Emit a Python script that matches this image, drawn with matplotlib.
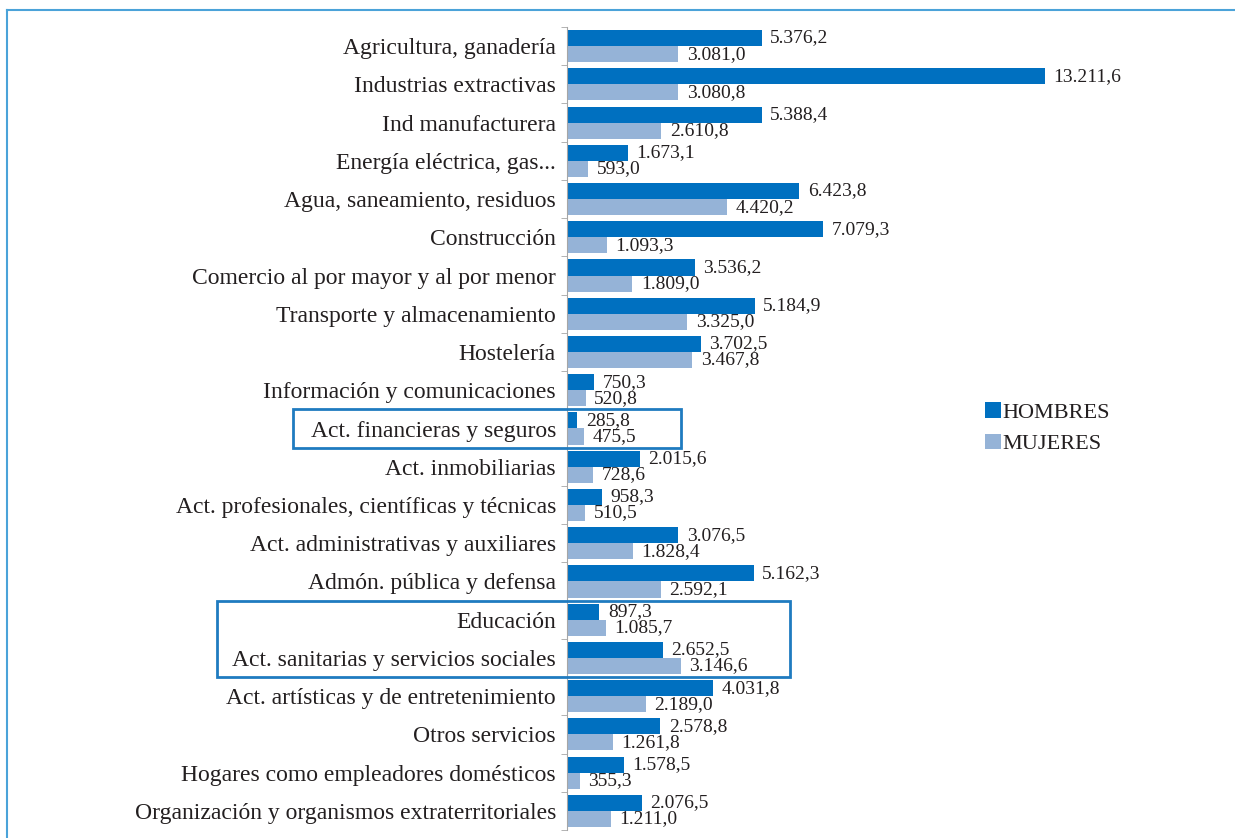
import numpy as np
import matplotlib.pyplot as plt
from matplotlib.patches import Rectangle
from matplotlib.lines import Line2D
import matplotlib.transforms as mtransforms

# data
sectores = ['Agricultura, ganadería', 'Industrias extractivas', 'Ind manufacturera',
            'Energía eléctrica, gas...', 'Agua, saneamiento, residuos', 'Construcción',
            'Comercio al por mayor y al por menor', 'Transporte y almacenamiento',
            'Hostelería', 'Información y comunicaciones', 'Act. financieras y seguros',
            'Act. inmobiliarias', 'Act. profesionales, científicas y técnicas',
            'Act. administrativas y auxiliares', 'Admón. pública y defensa', 'Educación',
            'Act. sanitarias y servicios sociales', 'Act. artísticas y de entretenimiento',
            'Otros servicios', 'Hogares como empleadores domésticos',
            'Organización y organismos extraterritoriales']
hombres = [5376.2, 13211.6, 5388.4, 1673.1, 6423.8, 7079.3, 3536.2, 5184.9, 3702.5, 750.3,
           285.8, 2015.6, 958.3, 3076.5, 5162.3, 897.3, 2652.5, 4031.8, 2578.8, 1578.5, 2076.5]
mujeres = [3081.0, 3080.8, 2610.8, 593.0, 4420.2, 1093.3, 1809.0, 3325.0, 3467.8, 520.8,
           475.5, 728.6, 510.5, 1828.4, 2592.1, 1085.7, 3146.6, 2189.0, 1261.8, 355.3, 1211.0]
series = ['HOMBRES', 'MUJERES']
resaltados = [(10, 10), (15, 16)]  # filas dentro de los recuadros

c_h = '#0070C0'
c_m = '#95B3D7'
c_txt = '#231F20'
c_marco = '#1F7BC0'

plt.rcParams['font.family'] = ['Liberation Serif', 'DejaVu Serif']

def fmt(v):
    s = f'{v:,.1f}'
    return s.replace(',', 'X').replace('.', ',').replace('X', '.')

W, H = 1235, 838
fig = plt.figure(figsize=(W/100, H/100), dpi=100)
ax = fig.add_axes([567/W, 1 - 830/H, (W - 567)/W, (830 - 27)/H])

y = np.arange(len(sectores))
h = 0.42
ax.barh(y - h/2, hombres, height=h, color=c_h, label=series[0])
ax.barh(y + h/2, mujeres, height=h, color=c_m, label=series[1])

for i in range(len(sectores)):
    ax.annotate(fmt(hombres[i]), (hombres[i], y[i] - h/2), xytext=(6, 0),
                textcoords='offset points', va='center', ha='left', fontsize=14, color=c_txt)
    ax.annotate(fmt(mujeres[i]), (mujeres[i], y[i] + h/2), xytext=(6, 0),
                textcoords='offset points', va='center', ha='left', fontsize=14, color=c_txt)

ax.set_xlim(0, (W - 567) / 0.03618)
ax.set_ylim(len(sectores) - 0.5, -0.5)
ax.set_yticks(y)
ax.set_yticklabels(sectores, fontsize=17, color=c_txt)
ax.set_yticks(np.arange(len(sectores) + 1) - 0.5, minor=True)
ax.tick_params(axis='y', which='major', length=0, pad=8)
ax.tick_params(axis='y', which='minor', length=4, color='#A6A6A6', direction='out')
ax.set_xticks([])
for s in ['top', 'right', 'bottom']:
    ax.spines[s].set_visible(False)
ax.spines['left'].set_color('#A6A6A6')
ax.patch.set_alpha(0)

# recuadros
trans = mtransforms.blended_transform_factory(fig.transFigure, ax.transData)
cajas_x = [(293, 681), (217, 790)]
for (a, b), (x0, x1) in zip(resaltados, cajas_x):
    r = Rectangle((x0/W, a - 0.5), (x1 - x0)/W, b - a + 1, transform=trans, fill=False,
                  edgecolor=c_marco, linewidth=2, clip_on=False, zorder=5)
    fig.add_artist(r)

# leyenda
leg = ax.legend(loc='upper left', bbox_to_anchor=(965/W, 1 - 382/H), bbox_transform=fig.transFigure,
                frameon=False, fontsize=16, handlelength=0.7, handleheight=0.7,
                handletextpad=0.1, labelspacing=0.5)
for t in leg.get_texts():
    t.set_color(c_txt)

# marco de la página
fig.add_artist(Line2D([7/W, 1], [1 - 10/H, 1 - 10/H], color='#4BA3D9', lw=1.5))
fig.add_artist(Line2D([7/W, 7/W], [0, 1 - 10/H], color='#4BA3D9', lw=1.5))

fig.savefig('out.png', dpi=100)
